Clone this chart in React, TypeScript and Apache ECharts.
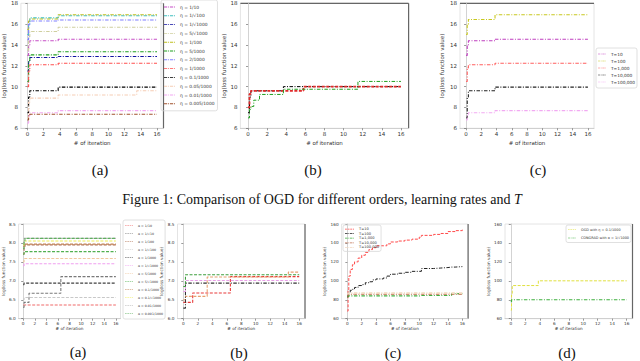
import React, { useEffect, useRef } from "react";
import * as echarts from "echarts";

// ---------------- data ----------------
const X_TICKS = [0, 2, 4, 6, 8, 10, 12, 14, 16];

// Top row (a): order / learning rate comparison
const TA_NAMES = ["η = 1/10", "η = 1/√100", "η = 1/√1000", "η = 5/√1000", "η = 1/100", "η = 5/1000", "η = 2/1000", "η = 1/1000", "η = 0.1/1000", "η = 0.05/1000", "η = 0.01/1000", "η = 0.005/1000"];
const TA_X = [0, 0.15, 0.3, 3.8, 13.5, 16];
const TA_Y = [
  [13.0, 14.0, 14.4, 14.55, 14.55, 14.55],
  [15.0, 16.0, 16.6, 16.8, 16.8, 16.8],
  [11.5, 12.5, 12.8, 12.9, 12.9, 12.9],
  [13.5, 14.8, 15.3, 15.7, 15.7, 15.7],
  [15.5, 16.3, 16.5, 16.9, 16.9, 16.9],
  [10.5, 12.5, 13.05, 13.35, 13.35, 13.35],
  [14.5, 16.0, 16.3, 16.4, 16.4, 16.4],
  [10.0, 11.5, 12.1, 12.25, 12.25, 12.25],
  [7.5, 9.0, 9.6, 9.95, 9.95, 9.95],
  [7.0, 8.5, 8.9, 9.2, 9.6, 9.6],
  [6.5, 7.2, 7.5, 7.7, 7.7, 7.7],
  [6.8, 7.2, 7.35, 7.35, 7.35, 7.35],
];

// Top row (b)
const TB_NAMES = ["black", "red", "green"];
const TB_X = [0, 0.15, 0.3, 0.6, 1.2, 3.7, 5.8, 11.5, 16];
const TB_Y = [
  [7.5, 9.0, 9.6, 9.6, 9.6, 10.0, 10.0, 10.0, 10.0],
  [8.0, 9.3, 9.6, 9.6, 9.6, 9.6, 10.0, 10.0, 10.0],
  [7.0, 7.8, 8.1, 8.7, 9.25, 9.75, 9.75, 10.5, 10.5],
];

// Top row (c): different T
const TC_NAMES = ["T=10", "T=100", "T=1,000", "T=10,000", "T=100,000"];
const TC_X = [0, 0.15, 0.3, 3.8, 16];
const TC_Y = [
  [13.0, 14.0, 14.4, 14.55, 14.55],
  [15.0, 16.0, 16.45, 16.9, 16.9],
  [10.5, 11.8, 12.1, 12.25, 12.25],
  [7.0, 9.0, 9.6, 9.95, 9.95],
  [6.8, 7.2, 7.5, 7.7, 7.7],
];

// Bottom row (a)
const BA_NAMES = ["α = 1/10", "α = 1/√10", "α = 1/100", "α = 1/√100", "α = 1/1000", "α = 1/√1000", "α = 5/1000", "α = 5/√1000", "α = 0.1/1000", "α = 0.1/√1000", "α = 0.01/1000", "α = 0.001/1000"];
const BA_X = [0, 0.15, 0.3, 1.0, 6.5, 16];
const BA_Y = [
  [6.36, 6.36, 6.36, 6.36, 6.36, 6.36],
  [6.3, 6.43, 6.43, 6.67, 7.11, 7.11],
  [7.7, 7.9, 7.95, 7.95, 7.95, 7.95],
  [6.5, 6.56, 6.56, 6.56, 6.56, 6.56],
  [6.9, 6.94, 6.94, 6.94, 6.94, 6.94],
  [7.4, 7.45, 7.45, 7.45, 7.45, 7.45],
  [7.5, 7.59, 7.59, 7.59, 7.59, 7.59],
  [7.7, 7.77, 7.77, 7.77, 7.77, 7.77],
  [7.9, 7.97, 7.97, 7.97, 7.97, 7.97],
  [7.95, 8.05, 8.05, 8.05, 8.05, 8.05],
  [8.0, 8.12, 8.12, 8.12, 8.12, 8.12],
  [7.85, 8.05, 8.12, 8.12, 8.12, 8.12],
];

// Bottom row (b)
const BB_NAMES = ["red", "peach", "black", "magenta", "green"];
const BB_X = [0, 0.3, 1.3, 3.3, 6.5, 14.5, 16];
const BB_Y = [
  [6.43, 6.43, 6.68, 6.68, 7.11, 7.11, 7.11],
  [6.5, 6.59, 6.59, 7.1, 7.1, 7.23, 7.23],
  [6.28, 6.94, 6.94, 6.94, 6.94, 6.94, 6.94],
  [6.72, 7.01, 7.01, 7.01, 7.01, 7.01, 7.01],
  [6.85, 7.16, 7.16, 7.16, 7.16, 7.16, 7.16],
];

// Bottom row (c): different T
const BC_NAMES = ["T=10", "T=100", "T=1,000", "T=10,000", "T=100,000"];
const BC_X = [0, 0.1, 0.2, 0.4, 0.7, 1, 1.5, 2, 2.5, 3, 3.5, 4, 5, 5.5, 6, 7, 8, 9, 10, 10.3, 12, 13, 14, 14.5, 15, 16];
const BC_Y = [
  [68, 90, 105, 112, 117, 120, 124, 127, 130, 133, 135, 137, 137, 139, 141, 142, 143, 144, 146, 148, 149, 150, 152, 152, 153, 154],
  [83, 86, 88, 90, 91, 93, 95, 96, 98, 99, 101, 102, 103, 105, 107, 108, 109, 110, 110, 113, 113.5, 114, 114.5, 114.5, 115, 115],
  [83, 84, 84, 84, 84, 84, 84, 84, 84, 84, 84, 84, 84, 84, 84, 84, 84, 84, 84.5, 84.5, 84.5, 84.5, 84.5, 86.5, 86.5, 86.5],
  [84, 85.5, 85.8, 85.8, 85.8, 85.8, 85.8, 85.8, 85.8, 85.8, 85.8, 85.8, 85.8, 85.8, 85.8, 85.8, 85.8, 85.8, 85.8, 85.8, 85.8, 85.8, 85.8, 85.8, 85.8, 85.8],
  [86, 87, 87, 87, 87, 87, 87, 87, 87, 87, 87, 87, 87, 87, 87, 87, 87, 87, 87, 87, 87, 87, 87, 87, 87, 87],
];

// Bottom row (d)
const BD_NAMES = ["OGD with η = 0.1/1000", "CONGRAD with α = 1/√1000"];
const BD_X = [0, 0.1, 0.2, 3.8, 16];
const BD_Y = [
  [69, 85, 95, 100, 100],
  [78, 80, 80, 80, 80],
];

// ---------------- styles / layout ----------------
const DD = [3.5, 1.5, 1, 1.5];
const DS = [3, 1.5];
const ICON_DD = "path://M0,0h7v2h-7z M9,0h2v2h-2z M13,0h7v2h-7z M22,0h2v2h-2z";
const ICON_DS = "path://M0,0h5v2h-5z M7,0h5v2h-5z M14,0h5v2h-5z M21,0h3v2h-3z";
const TA_COL = ["#c64fc6", "#3fbfbf", "#1010a0", "#cfcf9f", "#bfbf1f", "#1f9f1f", "#7f7fff", "#ff4f4f", "#000000", "#f5cdb5", "#f2a8f2", "#a0522d"];
const TB_COL = ["#000000", "#e02a2a", "#1f9f1f"];
const TB_W = [1, 1.8, 1];
const TB_D = [DD, DS, DD];
const TC_COL = ["#bf3fbf", "#c8c81f", "#ff5f5f", "#222222", "#f2aaf2"];
const BA_COL = ["#f06a6a", "#7a7a7a", "#b07050", "#c8c8c8", "#404040", "#f0a0f0", "#f0c8a0", "#50b050", "#c08050", "#eeee55", "#b0b0b0", "#5fb05f"];
const BB_COL = ["#e83a3a", "#e8a070", "#333333", "#e8a0e8", "#3fa03f"];
const BC_COL = ["#ff4a4a", "#222222", "#3fb03f", "#c07050", "#f2d8c0"];
const BC_W = [1, 1, 1.2, 1, 1.8];
const BC_D = [DS, DD, DD, DD, DD];
const BD_COL = ["#e0e040", "#3fb03f"];

const GRIDS = [
  { left: 19.4, top: 3.3, width: 144.1, height: 125 },
  { left: 240.4, top: 3.3, width: 168.2, height: 125 },
  { left: 460, top: 3.3, width: 134, height: 125 },
  { left: 14.2, top: 224, width: 106.3, height: 94.7 },
  { left: 177.5, top: 224, width: 127.5, height: 94.7 },
  { left: 341.6, top: 224, width: 126.5, height: 94.7 },
  { left: 505, top: 224, width: 127.5, height: 94.7 },
];

const FONT = "DejaVu Sans";
const SERIF = "Liberation Serif";

function buildOption() {
  const series: any[] = [];
  const add = (g: number, key: string, names: string[], xs: number[], ys: number[][], cols: string[], widths?: number[], dashes?: any[]) => {
    names.forEach((n, k) => {
      series.push({
        type: "line",
        name: key + k + "|" + n,
        xAxisIndex: g,
        yAxisIndex: g,
        step: "end",
        symbol: "none",
        showSymbol: false,
        silent: true,
        data: xs.map((x, j) => [x, ys[k][j]]),
        lineStyle: { color: cols[k], width: widths ? widths[k] : 1.1, type: dashes ? dashes[k] : DD },
        itemStyle: { color: cols[k] },
      });
    });
  };
  const BA_D = BA_NAMES.map(() => DS);
  const BB_D = [DS, DS, DD, DS, DS];
  const BD_D = [DS, DD];
  add(0, "ta", TA_NAMES, TA_X, TA_Y, TA_COL);
  add(1, "tb", TB_NAMES, TB_X, TB_Y, TB_COL, TB_W, TB_D);
  add(2, "tc", TC_NAMES, TC_X, TC_Y, TC_COL);
  add(3, "ba", BA_NAMES, BA_X, BA_Y, BA_COL, undefined, BA_D);
  add(4, "bb", BB_NAMES, BB_X, BB_Y, BB_COL, undefined, BB_D);
  add(5, "bc", BC_NAMES, BC_X, BC_Y, BC_COL, BC_W, BC_D);
  add(6, "bd", BD_NAMES, BD_X, BD_Y, BD_COL, [1, 1.2], BD_D);

  const isTop = (i: number) => i < 3;
  const xAxis = GRIDS.map((_, i) => ({
    type: "value",
    gridIndex: i,
    min: -0.8,
    max: 16.8,
    name: "# of iteration",
    nameLocation: "middle",
    nameGap: isTop(i) ? 12 : 8,
    nameTextStyle: { fontSize: isTop(i) ? 5.5 : 4.2, color: "#333", fontFamily: FONT },
    axisLine: { show: true, lineStyle: { color: "#c8c8c8", width: 0.8 } },
    axisTick: { show: true, customValues: X_TICKS, length: 2, lineStyle: { color: "#555", width: 0.6 } },
    axisLabel: { customValues: X_TICKS, fontSize: isTop(i) ? 5.5 : 4.2, color: "#333", margin: 3, fontFamily: FONT },
    splitLine: { show: false },
  }));
  const yRange = (i: number) =>
    isTop(i) ? { min: 6, max: 18, interval: 2 } : i < 5 ? { min: 6, max: 8.5, interval: 0.5 } : { min: 60, max: 160, interval: 20 };
  const yAxis = GRIDS.map((_, i) => ({
    type: "value",
    gridIndex: i,
    ...yRange(i),
    name: "log(loss function value)",
    nameLocation: "middle",
    nameGap: isTop(i) ? (i === 2 ? 15 : 13) : i === 3 ? 9 : 12,
    nameTextStyle: { fontSize: isTop(i) ? 5.5 : 4.2, color: "#333", fontFamily: FONT },
    axisLine: { show: true, lineStyle: { color: "#c8c8c8", width: 0.8 } },
    axisTick: { show: true, length: 2, lineStyle: { color: "#555", width: 0.6 } },
    axisLabel: {
      fontSize: isTop(i) ? 5.5 : 4.2,
      color: "#333",
      margin: 3,
      fontFamily: FONT,
      formatter: i === 3 || i === 4 ? (v: number) => v.toFixed(1) : undefined,
    },
    splitLine: { show: false },
  }));

  const legendBase = {
    orient: "vertical",
    selectedMode: false,
    borderColor: "#d8d8d8",
    borderWidth: 0.8,
    borderRadius: 2,
    formatter: (n: string) => n.split("|")[1],
  };
  const items = (key: string, arr: string[], dashes: any[]) =>
    arr.map((n, k) => ({ name: key + k + "|" + n, icon: dashes[k] === DS ? ICON_DS : ICON_DD }));
  const legend = [
    { ...legendBase, data: items("ta", TA_NAMES, TA_NAMES.map(() => DD)), left: 161, top: 0, padding: [4, 3, 4, 3], itemWidth: 11, itemHeight: 1.4, itemGap: 2.8, textStyle: { fontSize: 4.4, fontFamily: FONT, color: "#333", lineHeight: 6 } },
    { ...legendBase, data: items("tc", TC_NAMES, TC_NAMES.map(() => DD)), left: 596, top: 48, padding: [3, 2, 3, 2], itemWidth: 8, itemHeight: 1.4, itemGap: 1, textStyle: { fontSize: 4.3, fontFamily: FONT, color: "#333", lineHeight: 6 } },
    { ...legendBase, data: items("ba", BA_NAMES, BA_D), left: 123, top: 220, padding: [3, 2, 3, 2], itemWidth: 8, itemHeight: 1.2, itemGap: 3, textStyle: { fontSize: 3.2, fontFamily: FONT, color: "#333", lineHeight: 5 } },
    { ...legendBase, data: items("bc", BC_NAMES, BC_D), left: 343, top: 225, padding: [2, 2, 2, 2], itemWidth: 9, itemHeight: 1.1, itemGap: 0.6, textStyle: { fontSize: 3.6, fontFamily: FONT, color: "#333", lineHeight: 4 } },
    { ...legendBase, data: items("bd", BD_NAMES, BD_D), left: 566, top: 225, padding: [2, 2, 2, 2], itemWidth: 8, itemHeight: 1.2, itemGap: 3.5, textStyle: { fontSize: 3.4, fontFamily: FONT, color: "#333", lineHeight: 5 } },
  ];

  const grid = GRIDS.map((g) => ({ ...g, show: true, borderColor: "#dddddd", borderWidth: 0.8, containLabel: false }));

  const spine = (x1: number, y1: number, x2: number, y2: number) => ({
    type: "line",
    shape: { x1, y1, x2, y2 },
    style: { stroke: "#666", lineWidth: 1.2 },
    silent: true,
  });
  const R = (g: any) => g.left + g.width;
  const B = (g: any) => g.top + g.height;
  const G = GRIDS;
  const caption = (x: number, y: number, t: string) => ({
    type: "text",
    x,
    y,
    style: { text: t, font: `15px "${SERIF}"`, fill: "#111", align: "center", verticalAlign: "middle" },
    silent: true,
  });

  const graphic = [
    spine(R(G[0]), G[0].top, R(G[0]), B(G[0])),
    spine(G[1].left, G[1].top, R(G[1]), G[1].top),
    spine(R(G[1]), G[1].top, R(G[1]), B(G[1])),
    spine(G[2].left, G[2].top, R(G[2]), G[2].top),
    spine(R(G[4]), G[4].top, R(G[4]), B(G[4])),
    spine(R(G[5]), G[5].top, R(G[5]), B(G[5])),
    spine(R(G[6]), G[6].top, R(G[6]), B(G[6])),
    caption(100, 170, "(a)"),
    caption(313, 170, "(b)"),
    caption(538, 170, "(c)"),
    caption(78, 352, "(a)"),
    caption(239, 353, "(b)"),
    caption(393, 353, "(c)"),
    caption(567, 353, "(d)"),
    {
      type: "text",
      x: 322,
      y: 199,
      style: {
        text: "{n|Figure 1: Comparison of OGD for different orders, learning rates and }{i|T}",
        align: "center",
        verticalAlign: "middle",
        rich: {
          n: { fontFamily: SERIF, fontSize: 14, fill: "#111" },
          i: { fontFamily: SERIF, fontSize: 14, fontStyle: "italic", fill: "#111" },
        },
      },
      silent: true,
    },
  ];

  return {
    animation: false,
    backgroundColor: "#ffffff",
    textStyle: { fontFamily: FONT },
    grid,
    xAxis,
    yAxis,
    legend,
    series,
    graphic,
  };
}

export default function App() {
  const ref = useRef<HTMLDivElement>(null);
  useEffect(() => {
    if (!ref.current) return;
    const chart = echarts.init(ref.current, null, { renderer: "svg" });
    chart.setOption(buildOption() as any);
    return () => chart.dispose();
  }, []);
  return <div ref={ref} style={{ width: 640, height: 361, position: "absolute", left: 0, top: 0 }} />;
}
